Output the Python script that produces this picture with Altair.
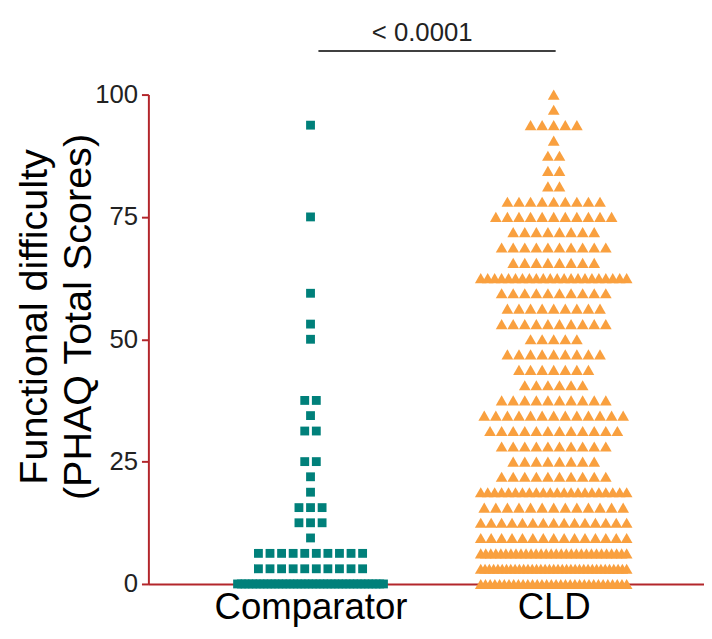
import altair as alt
import pandas as pd

# ---- data ----
groups = ["Comparator", "CLD"]

comp_values = [93.75, 75, 59.4, 53.1, 50, 37.5, 34.4, 31.25, 25, 21.9, 18.75,
               15.6, 12.5, 9.4, 6.25, 3.1, 0]
comp_counts = [1, 1, 1, 1, 1, 2, 1, 2, 2, 1, 1, 3, 3, 1, 10, 10, 40]

cld_values = [100, 96.9, 93.75, 90.6, 87.5, 84.4, 81.25, 78.1, 75, 71.9, 68.75,
              65.6, 62.5, 59.4, 56.25, 53.1, 50, 46.9, 43.75, 40.6, 37.5, 34.4,
              31.25, 28.1, 25, 21.9, 18.75, 15.6, 12.5, 9.4, 6.25, 3.1, 0]
cld_counts = [1, 1, 5, 1, 2, 2, 2, 9, 11, 8, 10, 8, 22, 10, 9, 10, 5, 9, 7, 6,
              10, 13, 12, 10, 8, 10, 22, 13, 15, 15, 30, 35, 32]

y_ticks = [0, 25, 50, 75, 100]
y_title = ["Functional difficulty", "(PHAQ Total Scores)"]
p_label = "< 0.0001"

# ---- build long table (one row per subject) ----
rows = []
for gi, (vals, cnts) in enumerate([(comp_values, comp_counts), (cld_values, cld_counts)]):
    for v, c in zip(vals, cnts):
        for _ in range(c):
            rows.append({"group": groups[gi], "gidx": gi, "value": v})
df = pd.DataFrame(rows)

FONT = "Liberation Sans"
RED = "#b3262b"

base = alt.Chart(df).transform_window(
    rank="row_number()", groupby=["group", "value"]
).transform_joinaggregate(
    n="count()", groupby=["group", "value"]
).transform_calculate(
    step="min(0.0476, 0.6 / max(datum.n - 1, 1))"
).transform_calculate(
    pos="datum.gidx + (datum.rank - 1 - (datum.n - 1) / 2) * datum.step"
)

xscale = alt.Scale(domain=[-0.6667, 1.618], nice=False, zero=False)
yscale = alt.Scale(domain=[0, 100], nice=False)

points = base.mark_point(filled=True, opacity=1, strokeWidth=0).encode(
    x=alt.X("pos:Q", scale=xscale,
            axis=alt.Axis(values=[0, 1], title=None, grid=False, ticks=False,
                          labelExpr="datum.value == 0 ? 'Comparator' : 'CLD'",
                          labelFontSize=37, labelFont=FONT, labelColor="#000",
                          labelLimit=0, labelPadding=6,
                          domainColor=RED, domainWidth=2)),
    y=alt.Y("value:Q", scale=yscale,
            axis=alt.Axis(values=y_ticks, grid=False, title=None,
                          labelFont=FONT, labelFontSize=26, labelColor="#222",
                          labelPadding=4, tickColor=RED, tickSize=7, tickWidth=2,
                          domainColor=RED, domainWidth=2)),
    color=alt.Color("group:N", scale=alt.Scale(domain=groups, range=["#00807a", "#f9a03f"]),
                    legend=None),
    shape=alt.Shape("group:N", scale=alt.Scale(domain=groups, range=["square", "triangle-up"]),
                    legend=None),
    size=alt.Size("group:N", scale=alt.Scale(domain=groups, range=[80, 140]), legend=None),
)

ann_line = pd.DataFrame({"x": [0.0325], "x2": [1.008], "y": [108.9]})
ann_text = pd.DataFrame({"x": [0.459], "y": [110.9], "t": [p_label]})

rule = alt.Chart(ann_line).mark_rule(color="#000", strokeWidth=1.5).encode(
    x=alt.X("x:Q", scale=xscale), x2="x2:Q", y=alt.Y("y:Q", scale=yscale))
text = alt.Chart(ann_text).mark_text(font=FONT, fontSize=26, color="#222",
                                     baseline="alphabetic", align="center").encode(
    x=alt.X("x:Q", scale=xscale), y=alt.Y("y:Q", scale=yscale), text="t:N")

title1 = alt.Chart(pd.DataFrame({"t": [y_title[0]]})).mark_text(
    font=FONT, fontSize=40, color="#000", angle=270, align="center", baseline="alphabetic"
).encode(x=alt.value(-103), y=alt.value(225), text="t:N")
title2 = alt.Chart(pd.DataFrame({"t": [y_title[1]]})).mark_text(
    font=FONT, fontSize=40, color="#000", angle=270, align="center", baseline="alphabetic"
).encode(x=alt.value(-58), y=alt.value(225), text="t:N")

chart = alt.layer(points, rule, text, title1, title2).properties(
    width=562, height=495,
    background="white",
    autosize=alt.AutoSizeParams(type="none"),
    padding={"left": 142, "top": 84, "right": 0, "bottom": 43},
).configure_view(stroke=None)

chart.save("out.html", embed_options={"renderer": "svg", "actions": False})
